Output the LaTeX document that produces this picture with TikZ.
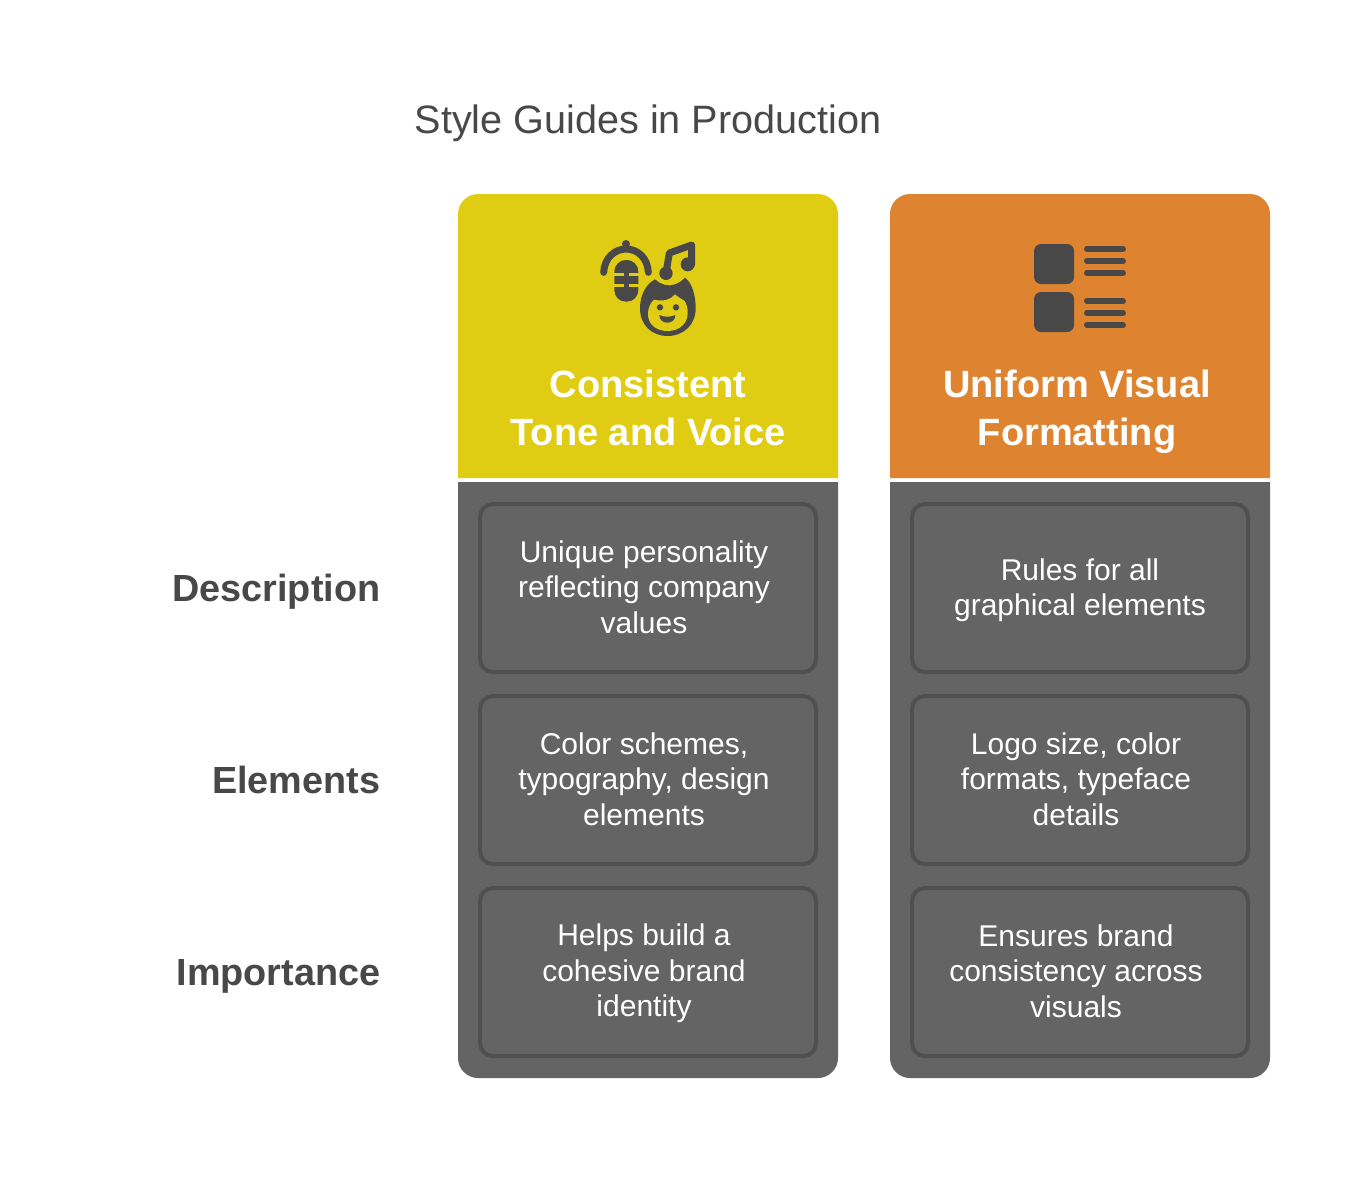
\documentclass[tikz,border=0pt]{standalone}
\usepackage{fontspec}
\setmainfont{Liberation Sans}
\definecolor{ink}{HTML}{484848}
\definecolor{panelgray}{HTML}{646464}
\definecolor{boxedge}{HTML}{505050}
\definecolor{headyellow}{HTML}{E0CC12}
\definecolor{headorange}{HTML}{DE8431}
\tikzset{
  x=1pt,y=-1pt,
  titletext/.style={font=\fontsize{39.6}{47}\selectfont,text=ink,inner sep=0pt},
  headtext/.style={font=\fontsize{38}{48}\selectfont\bfseries,text=white,align=center,inner sep=0pt},
  rowtext/.style={font=\fontsize{37.8}{48}\selectfont\bfseries,text=ink,anchor=east,inner sep=0pt},
  celltext/.style={font=\fontsize{30}{35.5}\selectfont,text=white,align=center,inner sep=0pt},
  cellbox/.style={draw=boxedge,line width=4pt,rounded corners=13pt},
  iconline/.style={draw=ink,line cap=round,line join=round},
}
\begin{document}
\begin{tikzpicture}
\useasboundingbox (0,0) rectangle (1368,1200);
\fill[white] (0,0) rectangle (1368,1200);
\node[titletext] (title) at (648,123) {Style Guides in Production};
% panels
\fill[headyellow] (458,478) -- (458,214) .. controls (458,203) and (467,194) .. (478,194) -- (818,194) .. controls (829,194) and (838,203) .. (838,214) -- (838,478) -- cycle;
\fill[headorange] (890,478) -- (890,214) .. controls (890,203) and (899,194) .. (910,194) -- (1250,194) .. controls (1261,194) and (1270,203) .. (1270,214) -- (1270,478) -- cycle;
\fill[panelgray] (458,482) -- (838,482) -- (838,1058) .. controls (838,1069) and (829,1078) .. (818,1078) -- (478,1078) .. controls (467,1078) and (458,1069) .. (458,1058) -- cycle;
\fill[panelgray] (890,482) -- (1270,482) -- (1270,1058) .. controls (1270,1069) and (1261,1078) .. (1250,1078) -- (910,1078) .. controls (899,1078) and (890,1069) .. (890,1058) -- cycle;
% cell frames
\foreach \x in {480,912}{
  \foreach \y in {504,696,888}{
    \draw[cellbox] (\x,\y) rectangle (\x+336,\y+168);
  }
}
% headers
\node[headtext] (h1) at (648,408) {Consistent\\Tone and Voice};
\node[headtext] (h2) at (1077,412) {Uniform Visual\\Formatting};
% row labels
\node[rowtext] (r1) at (380.5,592) {Description};
\node[rowtext] (r2) at (380.5,780) {Elements};
\node[rowtext] (r3) at (380.5,976) {Importance};
% cells
\node[celltext] (c11) at (644,587) {Unique personality\\reflecting company\\values};
\node[celltext] (c12) at (644,779) {Color schemes,\\typography, design\\elements};
\node[celltext] (c13) at (644,973.5) {Helps build a\\cohesive brand\\identity};
\node[celltext] (c21) at (1080,590) {Rules for all\\graphical elements};
\node[celltext] (c22) at (1076,779) {Logo size, color\\formats, typeface\\details};
\node[celltext] (c23) at (1076,971) {Ensures brand\\consistency across\\visuals};
% icon: mic, note, face
\begin{scope}[shift={(580,225)},xscale=1/3,yscale=1/3]
  \draw[iconline,line width=7pt] (71,142) .. controls (73,98) and (105,72) .. (138,72) .. controls (172,72) and (203,98) .. (205,142);
  \fill[ink] (138,57) circle (12);
  \draw[ink,line width=5pt] (138,57) -- (138,74);
  \fill[ink,rounded corners=11.5pt] (103,105) rectangle (175,230);
  \fill[headyellow] (100,144) rectangle (133,153);
  \fill[headyellow] (100,177) rectangle (133,186);
  \fill[headyellow] (148,144) rectangle (178,153);
  \fill[headyellow] (148,177) rectangle (178,186);
  % note
  \draw[iconline,line width=7pt] (258,145) -- (268,84) -- (335,60) -- (335,118);
  \fill[ink] (258,145) circle (20);
  \fill[ink] (323,118) circle (21);
  % face
  \fill[ink] (225,163) .. controls (240,178) and (265,186) .. (285,178) .. controls (295,175) and (305,168) .. (315,158)
     .. controls (338,175) and (347,215) .. (347,250) .. controls (347,300) and (310,333) .. (263,333)
     .. controls (215,333) and (180,300) .. (180,250) .. controls (180,205) and (202,175) .. (225,163) -- cycle;
  \fill[headyellow] (222,224) .. controls (250,230) and (272,225) .. (285,208) .. controls (295,217) and (305,222) .. (314,228)
     .. controls (327,250) and (327,282) .. (309,300) .. controls (296,313) and (280,318) .. (263,318)
     .. controls (245,318) and (228,313) .. (216,300) .. controls (199,282) and (199,245) .. (222,224) -- cycle;
  \fill[ink] (240,247) circle (9.5);
  \fill[ink] (288,247) circle (9.5);
  \fill[ink] (238,270) .. controls (252,277) and (272,277) .. (286,270) .. controls (286,285) and (275,293) .. (262,293) .. controls (249,293) and (238,285) .. (238,270) -- cycle;
\end{scope}
% icon: list
\begin{scope}[shift={(1010,225)},xscale=1/3,yscale=1/3]
  \fill[ink,rounded corners=7pt] (72,57) rectangle (192,177);
  \fill[ink,rounded corners=7pt] (72,201) rectangle (192,321);
  \foreach \y in {72,108,144,228,264,300}{
    \draw[iconline,line width=6pt] (231,\y) -- (339,\y);
  }
\end{scope}
\end{tikzpicture}
\end{document}
